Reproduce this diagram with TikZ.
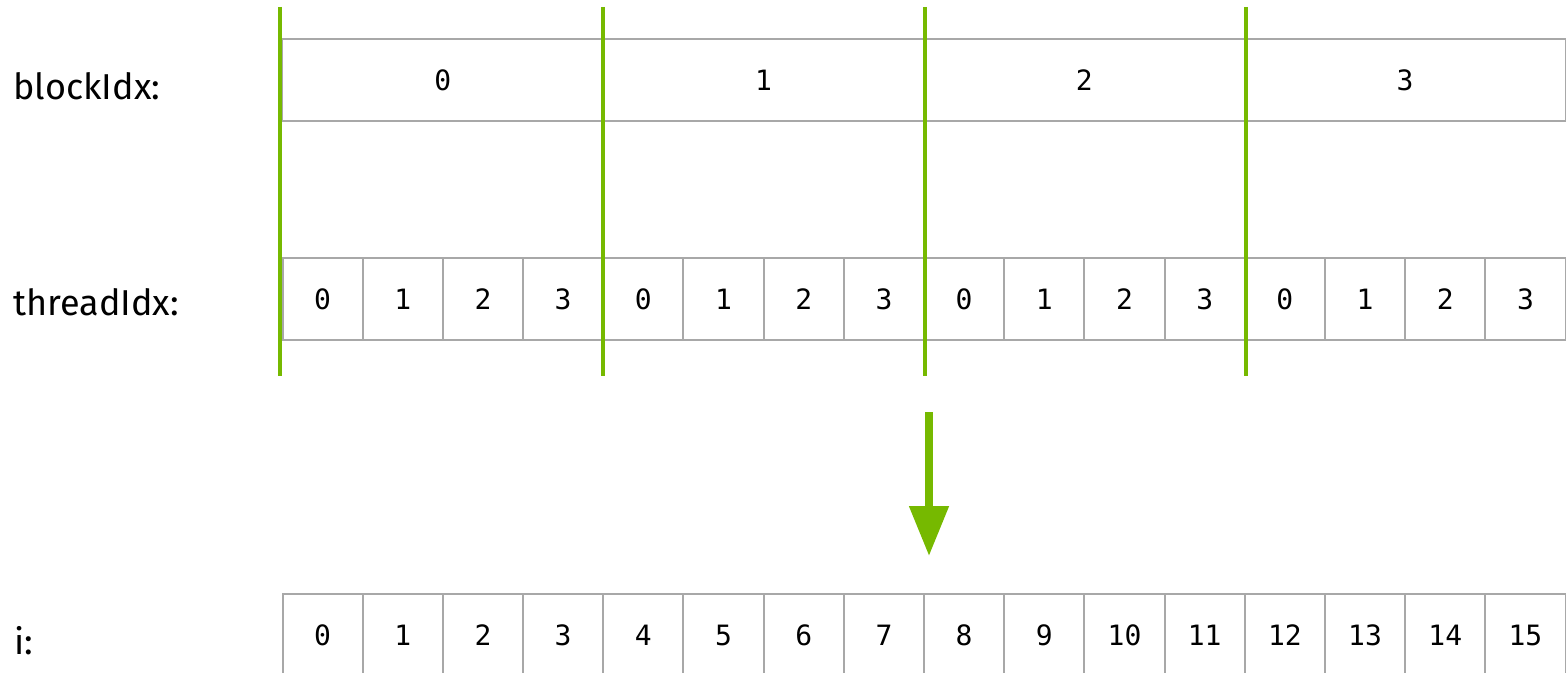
\documentclass[tikz,border=0pt]{standalone}
\usepackage{fontspec}
\setsansfont{Fira Sans}
\setmonofont{DejaVu Sans Mono}
\usetikzlibrary{arrows.meta}
\definecolor{nvgreen}{HTML}{76B900}
\definecolor{cellgray}{HTML}{A8A8A8}
\begin{document}
\begin{tikzpicture}[x=0.5pt,y=-0.5pt,
  cellbox/.style={draw=cellgray, line width=1pt, minimum width=40.1pt, minimum height=41pt, inner sep=0pt, font=\ttfamily\fontsize{14}{16}\selectfont},
  blockbox/.style={cellbox, minimum width=160.4pt},
  rowlabel/.style={anchor=base west, inner sep=0pt, font=\sffamily\fontsize{18}{21}\selectfont},
  divider/.style={draw=nvgreen, line width=2pt},
  maparrow/.style={draw=nvgreen, line width=4pt, -{Triangle[length=25pt,width=19pt]}}]
\useasboundingbox (0,0) rectangle (1566,673);
\clip (0,0) rectangle (1566,673);
% labels
\node[rowlabel] (lblock) at (13,100) {blockIdx:};
\node[rowlabel] (lthread) at (13,315) {threadIdx:};
\node[rowlabel] (li) at (14,654) {i:};
% block row
\foreach \b in {0,...,3}{
  \node[blockbox] (b\b) at ({282.5+320.75*(\b+0.5)},80) {\raisebox{-1.2pt}{\b}};
}
% thread row and i row
\foreach \k in {0,...,15}{
  \pgfmathtruncatemacro{\t}{mod(\k,4)}
  \node[cellbox] (t\k) at ({282.5+80.19*(\k+0.5)},299) {\raisebox{-1.2pt}{\t}};
  \node[cellbox] (i\k) at ({282.5+80.19*(\k+0.5)},635) {\raisebox{-0.5pt}{\k}};
}
% green dividers
\coordinate (g0a) at (280,7);    \coordinate (g0b) at (280,376);
\coordinate (g1a) at (602.5,7);  \coordinate (g1b) at (602.5,376);
\coordinate (g2a) at (924.5,7);  \coordinate (g2b) at (924.5,376);
\coordinate (g3a) at (1245.5,7); \coordinate (g3b) at (1245.5,376);
\coordinate (g4a) at (1567.5,7); \coordinate (g4b) at (1567.5,376);
\foreach \g in {0,...,4}{ \draw[divider] (g\g a) -- (g\g b); }
% arrow
\coordinate (arrs) at (929,412);
\coordinate (arre) at (929,556);
\draw[maparrow] (arrs) -- (arre);
\end{tikzpicture}
\end{document}
